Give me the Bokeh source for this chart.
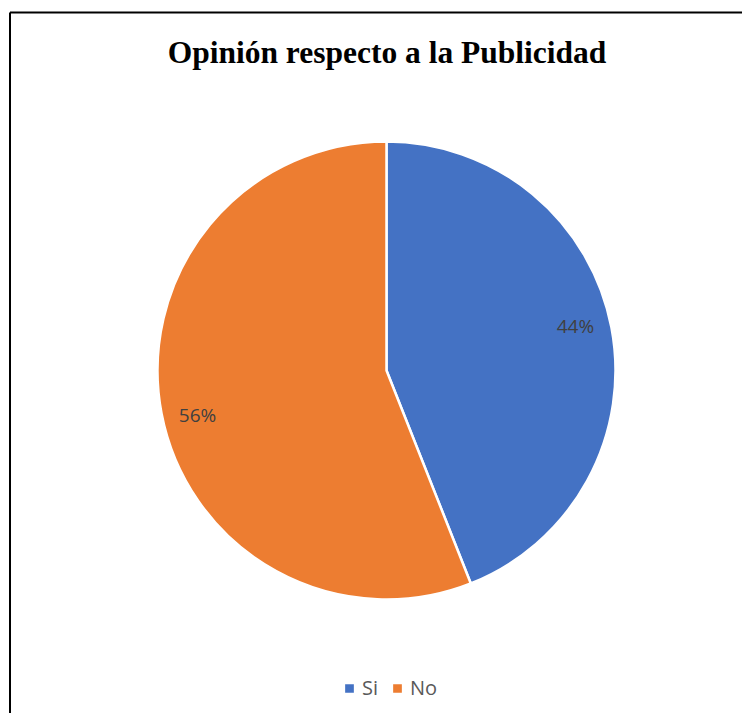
import numpy as np
from bokeh.plotting import figure
from bokeh.models import Range1d, ColumnDataSource, Legend, LegendItem
from bokeh.core.properties import value
from bokeh.embed import file_html
from bokeh.resources import INLINE

# ---- data ----
categories = ["Si", "No"]
percents = [44, 56]
colors = ["#4472C4", "#ED7D31"]
title_text = "Opinión respecto a la Publicidad"

# ---- layout (pixels in a 1:1 data space) ----
W, H = 742, 713
cx, cy, R = 386, 343, 229

vals = np.array(percents, dtype=float)
fr = vals / vals.sum()
ends = np.cumsum(fr) * 2 * np.pi
starts = ends - fr * 2 * np.pi
start_angle = np.pi / 2 - starts
end_angle = np.pi / 2 - ends
mid = (start_angle + end_angle) / 2
lab_r = 0.84 * R

src = ColumnDataSource(dict(
    cat=categories, start=start_angle, end=end_angle, color=colors,
    lx=cx + lab_r * np.cos(mid), ly=cy + lab_r * np.sin(mid) + np.sign(np.sin(mid)) * 8,
    lab=[f"{v:g}%" for v in percents],
))

p = figure(width=W, height=H, x_range=Range1d(0, W), y_range=Range1d(0, H),
           output_backend="svg", toolbar_location=None, min_border=0,
           background_fill_color="white", border_fill_color="white")
p.axis.visible = False
p.grid.visible = False
p.outline_line_color = None

# chart border (left/top visible, right/bottom run off the page)
p.segment(x0=[9.5, 9.5], y0=[-20, H - 12], x1=[9.5, W + 40], y1=[H - 12, H - 12],
          line_color="black", line_width=2)

r = p.wedge(x=cx, y=cy, radius=R, start_angle="start", end_angle="end",
            direction="clock", fill_color="color", line_color="white",
            line_width=2.5, source=src)

p.text(x="lx", y="ly", text="lab", source=src, text_align="center",
       text_baseline="middle", text_font=value("Open Sans"),
       text_font_size="19px", text_color="#404040")

p.text(x=[386.5], y=[H - 52], text=[title_text], text_align="center",
       text_baseline="middle", text_font=value("Liberation Serif"),
       text_font_style="bold", text_font_size="31.5px", text_color="black")

items = [LegendItem(label=c, renderers=[r], index=i) for i, c in enumerate(categories)]
leg = Legend(items=items, orientation="horizontal", location=(342, 12),
             glyph_width=14, glyph_height=14, label_standoff=6, spacing=8,
             label_text_font="Open Sans", label_text_font_size="20px",
             label_text_color="#595959", padding=0, margin=0,
             border_line_color=None, background_fill_alpha=0)
p.add_layout(leg)

open("out.html", "w").write(file_html(p, INLINE))
